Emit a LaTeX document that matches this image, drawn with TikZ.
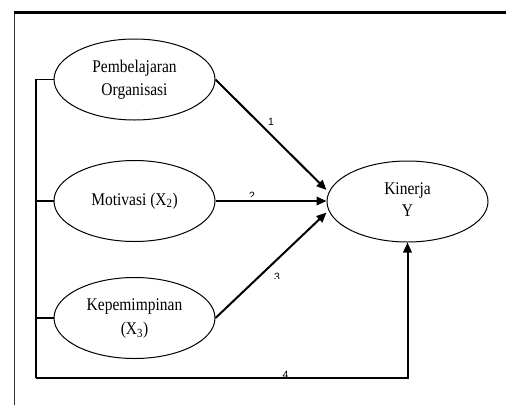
\documentclass[tikz,border=0pt]{standalone}
\usepackage{fontspec}
\setmainfont{Liberation Serif}
\newfontfamily\lblfont{Liberation Sans}
\usetikzlibrary{shapes.geometric,arrows.meta,calc}
\newcommand\vtxt[1]{\scalebox{1}[1.15]{\begin{tabular}{@{}c@{}}#1\end{tabular}}}
\tikzset{
  ell/.style={ellipse,draw,line width=1pt,inner sep=0pt,minimum width=161pt,minimum height=81pt,
    font=\fontsize{15.5}{19}\selectfont},
  conn/.style={line width=1.3pt},
  arr/.style={line width=2pt,-{Triangle[length=10pt,width=8.5pt]}},
  lbl/.style={inner sep=0pt,font=\lblfont\fontsize{10.5}{10.5}\selectfont,anchor=base},
}
\begin{document}
\begin{tikzpicture}[x=1pt,y=-1pt]
\useasboundingbox (0,0) rectangle (506,405);
% frame
\draw[line width=0.9pt,black!80] (14,13) -- (14,405);
\draw[line width=3pt] (13.5,12.5) -- (506,12.5);
% ellipses
\node[ell] (p) at (134.5,79.5) {\vtxt{Pembelajaran\\[1pt]Organisasi}};
\node[ell] (m) at (134.5,201) {\raisebox{-4pt}{\vtxt{Motivasi (X\textsubscript{2})}}};
\node[ell] (kp) at (134.5,318) {\raisebox{-2pt}{\vtxt{Kepemimpinan\\[2pt](X\textsubscript{3})}}};
\node[ell] (k) at (407.5,201.5) {\raisebox{-2pt}{\vtxt{Kinerja\\Y}}};
% clipped third line of first ellipse
\begin{scope}
  \clip (90,95) rectangle (180,104.5);
  \node[inner sep=0pt,anchor=base,font=\fontsize{15.5}{19}\selectfont] (px) at (134.5,117) {\scalebox{1}[1.15]{(X\textsubscript{1})}};
\end{scope}
% left connectors
\coordinate (L1) at (36,79.5);
\coordinate (L2) at (36,201);
\coordinate (L3) at (36,318);
\coordinate (L4) at (36,378);
\draw[conn] (p.west) -- (L1) -- (L4);
\draw[conn] (m.west) -- (L2);
\draw[conn] (kp.west) -- (L3);
% labels
\node[lbl] (n1) at (271,125.5) {1};
\begin{scope}
  \clip (240,180) rectangle (265,196);
  \node[lbl] (n2) at (252,199.5) {2};
\end{scope}
\begin{scope}
  \clip (265,265) rectangle (290,278.5);
  \node[lbl] (n3) at (277,280) {3};
\end{scope}
\begin{scope}
  \clip (275,360) rectangle (300,376.5);
  \node[lbl] (n4) at (285.5,378.5) {4};
\end{scope}
% arrows
\coordinate (t1) at (326.5,190);
\coordinate (t2) at (326.5,201);
\coordinate (t3) at (326.5,212.5);
\draw[arr] (p.east) -- (t1);
\draw[arr] (m.east) -- (t2);
\draw[arr] (kp.east) -- (t3);
\draw[line width=2pt] (L4) -- (407.5,378);
\draw[arr] (407.5,379) -- (k.south);
\end{tikzpicture}
\end{document}
